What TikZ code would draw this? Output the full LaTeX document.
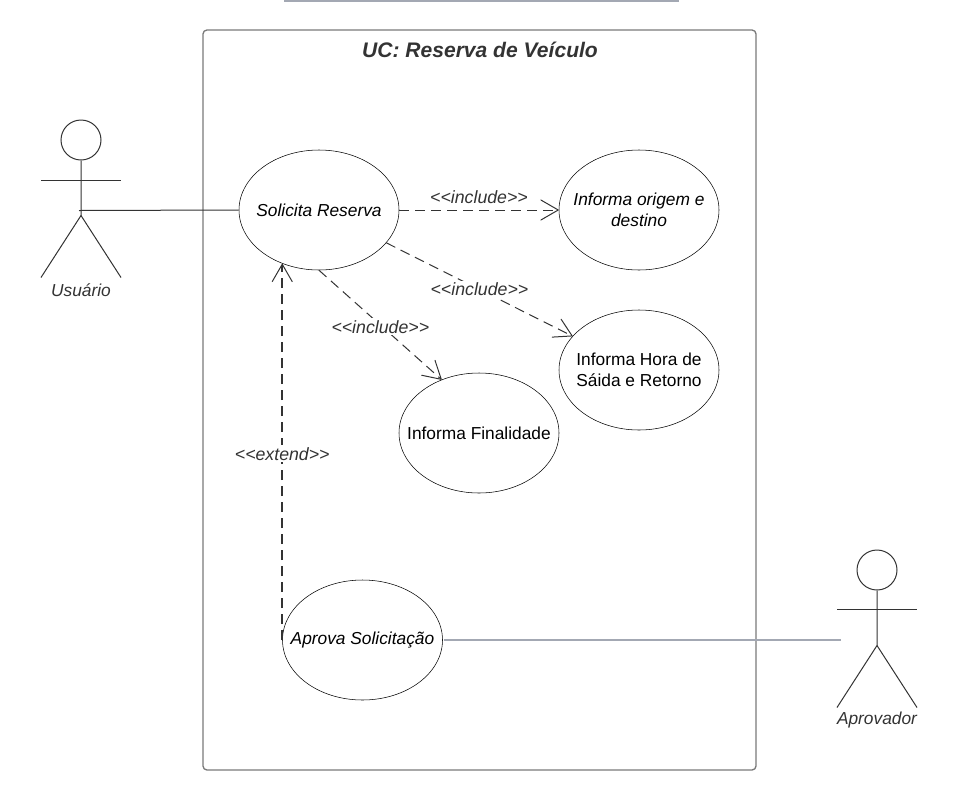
\documentclass[tikz,border=0pt]{standalone}
\usepackage{fontspec}
\setmainfont{Liberation Sans}
\usetikzlibrary{arrows.meta,shapes.geometric}
\definecolor{framegray}{HTML}{7A7A7A}
\definecolor{inkgray}{HTML}{333333}
\definecolor{linkgray}{HTML}{A3A8B3}
\tikzset{
	usecase/.style={draw=black, ellipse, minimum width=120pt, minimum height=90pt, inner xsep=-30pt, inner ysep=0pt, align=center, font=\fontsize{13}{16}\selectfont},
	usecaseit/.style={usecase, font=\fontsize{13}{16}\selectfont\itshape},
	limb/.style={draw=inkgray, line width=0.75pt},
	actorhead/.style={draw=inkgray, circle, minimum size=30pt, inner sep=0pt, line width=0.75pt},
	actorname/.style={text=inkgray, font=\fontsize{13}{16}\selectfont\itshape},
	dep/.style={draw=inkgray, line width=0.75pt, dash pattern=on 7.5pt off 4.5pt, -{Straight Barb[length=13pt, width=15pt, line width=0.75pt, round]}},
	deplabel/.style={text=inkgray, font=\fontsize{13.3}{16}\selectfont\itshape, inner sep=1.5pt}
}
\begin{document}
\begin{tikzpicture}[x=0.75pt, y=-0.75pt]
	\useasboundingbox (0,0) rectangle (979,797);

	\fill[linkgray] (284,0) rectangle (679,1.5);
	\draw[framegray, line width=1pt, rounded corners=3pt] (203,30) rectangle (756,770);
	\node[text=inkgray, font=\fontsize{15.8}{19}\selectfont\bfseries\itshape] (title) at (480,50) {UC: Reserva de Veículo};

	\node[usecaseit] (solicita) at (319,210) {Solicita Reserva};
	\node[usecaseit] (origem) at (639,210) {Informa origem e\\destino};
	\node[usecase] (hora) at (639,370) {Informa Hora de\\Sáida e Retorno};
	\node[usecase] (finalidade) at (479,433) {Informa Finalidade};
	\node[usecaseit] (aprova) at (362.5,640) {Aprova Solicitação};

	% actors
	\node[actorhead] (usuario) at (81,140) {};
	\draw[limb] (usuario.south) -- ++(0,55) -- ++(-40,62);
	\draw[limb] (usuario.south) ++(0,55) -- ++(40,62);
	\draw[limb] (41,180) -- ++(80,0);
	\node[actorname] (usuariolabel) at (81,290) {Usuário};
	\coordinate (usuariohip) at (79,210.5);

	\node[actorhead] (aprovador) at (877,570) {};
	\draw[limb] (aprovador.south) -- ++(0,55) -- ++(-40,62);
	\draw[limb] (aprovador.south) ++(0,55) -- ++(40,62);
	\draw[limb] (837,609) -- ++(80,0);
	\node[actorname] (aprovadorlabel) at (877,720) {Aprovador};
	\coordinate (aprovadorhip) at (841,640);

	% links
	\draw[limb] (usuariohip) -- (solicita.west);
	\draw[linkgray, line width=1.5pt] (aprova.east) ++(1,0) -- (aprovadorhip);

	\draw[dep] (solicita.east) -- (origem.west) node[midway, above=2.5pt, deplabel] (incorigem) {<{}<include>{}>};
	\draw[dep] (solicita.-26) -- (hora.153) node[pos=0.5, fill=white, deplabel] (inchora) {<{}<include>{}>};
	\draw[dep] (solicita.south) -- (finalidade.125) node[pos=0.5, yshift=-1.5pt, fill=white, deplabel] (incfinalidade) {<{}<include>{}>};
	\draw[dep, line width=1.5pt, -{Straight Barb[length=13pt, width=15pt, line width=0.75pt, round]}] (aprova.west) -- (aprova.west |- solicita.236) node[pos=0.495, fill=white, deplabel] (extaprova) {<{}<extend>{}>};
\end{tikzpicture}
\end{document}
